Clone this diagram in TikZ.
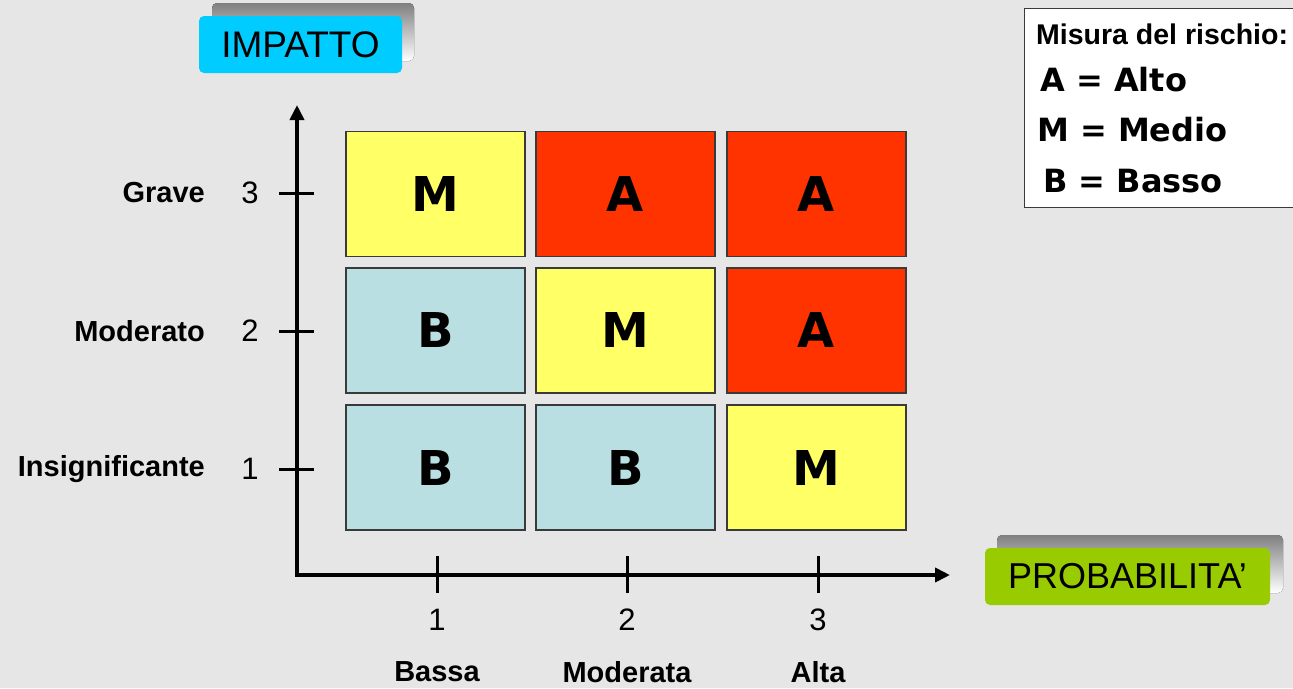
\documentclass[tikz,border=0pt]{standalone}
\usepackage{fontspec}
\setmainfont{Liberation Sans}
\newfontfamily\wide{DejaVu Sans}
\usetikzlibrary{arrows.meta}
\definecolor{bg}{HTML}{E6E6E6}
\definecolor{rhigh}{HTML}{FF3300}
\definecolor{rmid}{HTML}{FFFF66}
\definecolor{rlow}{HTML}{B9DFE3}
\definecolor{shade}{HTML}{B2B2B2}
\definecolor{cyanlab}{HTML}{00CCFF}
\definecolor{greenlab}{HTML}{99CC00}
\definecolor{cellline}{HTML}{3A3A3A}
\tikzset{
  cell/.style={draw=cellline, line width=1.3pt, minimum width=179pt, minimum height=125pt,
    inner sep=0pt, font=\wide\bfseries\fontsize{48}{48}\selectfont},
  hi/.style={cell, fill=rhigh},
  md/.style={cell, fill=rmid},
  lo/.style={cell, fill=rlow},
  axis/.style={line width=4pt, line cap=rect},
  axtip/.style={-{Triangle[length=15pt, width=14pt]}},
  tick/.style={line width=3pt},
  ticknum/.style={font=\fontsize{31}{31}\selectfont, inner sep=0pt},
  levlab/.style={font=\bfseries\fontsize{29}{29}\selectfont, inner sep=0pt},
  tag/.style={rounded corners=5pt, inner sep=0pt, minimum height=57pt},
  legline/.style={font=\wide\bfseries\fontsize{32}{32}\selectfont, inner sep=0pt, anchor=west}
}
\begin{document}
\begin{tikzpicture}[x=1pt, y=-1pt]
\fill[bg] (0,0) rectangle (1293,688);
\useasboundingbox (0,0) rectangle (1293,688);

% axis tags with drop shadows
\fill[shade, rounded corners=5pt] (212,3) rectangle (414,61);
\node[tag, fill=cyanlab, minimum width=203pt, font=\fontsize{37}{37}\selectfont] (imp) at (300.5,44.5) {IMPATTO};
\fill[shade, rounded corners=5pt] (997,535) rectangle (1283,593);
\node[tag, fill=greenlab, minimum width=285pt, font=\fontsize{36}{36}\selectfont] (prob) at (1127.5,576.5) {PROBABILITA'};

% legend
\node[draw=cellline, line width=1.3pt, fill=white, minimum width=290pt, minimum height=199pt, anchor=north west, inner sep=0pt] (leg) at (1023.5,7.5) {};
\node[font=\bfseries\fontsize{28.5}{28.5}\selectfont, inner sep=0pt, anchor=west] (legt) at (1036,34) {Misura del rischio:};
\node[legline] (la) at (1040,80) {A = Alto};
\node[legline] (lm) at (1037,130) {M = Medio};
\node[legline] (lb) at (1043,181) {B = Basso};

% axes
\coordinate (orig) at (297,575);
\coordinate (ytop) at (297,105);
\coordinate (xend) at (950,575);
\draw[axis, axtip] (orig) -- (ytop);
\draw[axis, axtip] (orig) -- (xend);

% impact ticks
\foreach \v/\y/\name in {3/193/Grave, 2/331/Moderato, 1/469/Insignificante}{
  \coordinate (yl\v) at (279,\y);
  \coordinate (yr\v) at (314,\y);
  \draw[tick] (yl\v) -- (yr\v);
  \node[ticknum] (yn\v) at (250,\y) {\v};
  \node[levlab, anchor=east] (yt\v) at (205,\y) {\name};
}
% probability ticks
\foreach \v/\x/\name in {1/437/Bassa, 2/627/Moderata, 3/818/Alta}{
  \coordinate (xu\v) at (\x,556);
  \coordinate (xd\v) at (\x,593);
  \draw[tick] (xu\v) -- (xd\v);
  \node[ticknum] (xn\v) at (\x,620) {\v};
  \node[levlab] (xt\v) at (\x,672) {\name};
}

% risk matrix
\node[md] (c13) at (435.5,194) {M};
\node[hi] (c23) at (625.5,194) {A};
\node[hi] (c33) at (816.5,194) {A};
\node[lo] (c12) at (435.5,330.5) {B};
\node[md] (c22) at (625.5,330.5) {M};
\node[hi] (c32) at (816.5,330.5) {A};
\node[lo] (c11) at (435.5,467.5) {B};
\node[lo] (c21) at (625.5,467.5) {B};
\node[md] (c31) at (816.5,467.5) {M};
\end{tikzpicture}
\end{document}
